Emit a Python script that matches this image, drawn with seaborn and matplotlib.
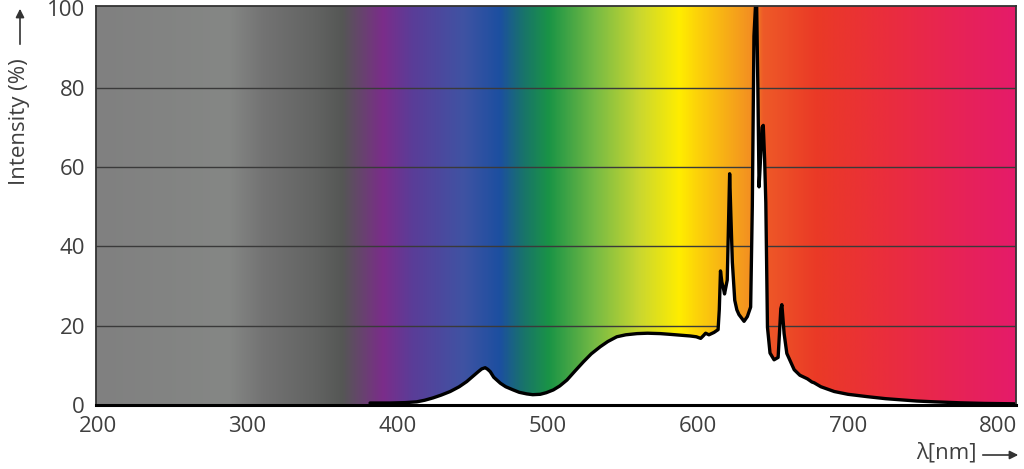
import numpy as np
import pandas as pd
import matplotlib
matplotlib.use("Agg")
import matplotlib.pyplot as plt
import seaborn as sns
from matplotlib.colors import LinearSegmentedColormap

# ---- data ----
wavelength = [381.6, 395, 405, 412.7, 418, 423.6, 429, 435, 441, 446, 450, 453.7, 456, 458.3, 460,
              461.7, 464, 468.4, 472, 477, 481, 486, 490, 495, 499, 503.7, 508, 512.8, 518, 523.8,
              529, 535, 540, 546, 552, 559.5, 566.5, 575, 582, 588.5, 595, 599, 601.9, 603.5, 605.2,
              607.4, 610.8, 613.5, 614.3, 615.1, 616, 617, 617.8, 619.6, 620.4, 621.2, 622, 623,
              624.6, 626, 627.4, 630.8, 633, 635.2, 636.3, 637.4, 638.4, 639.2, 640, 640.8, 641.5,
              642.8, 643.6, 644.5, 645.3, 646.4, 648.1, 650.8, 653.5, 655.3, 656, 657.5, 659.3,
              664.2, 668, 673, 676, 677.5, 682, 690.9, 700, 713, 725, 735.4, 746, 757.5, 775,
              790.8, 811]
intensity = [0.5, 0.5, 0.6, 0.8, 1.2, 1.8, 2.5, 3.4, 4.6, 5.9, 7.2, 8.4, 9.1, 9.4, 9.0,
             8.4, 7.0, 5.5, 4.6, 3.8, 3.2, 2.8, 2.6, 2.7, 3.1, 3.8, 4.8, 6.3, 8.5, 10.9,
             12.9, 14.7, 16.0, 17.2, 17.7, 18.0, 18.1, 18.0, 17.8, 17.6, 17.4, 17.2, 16.8, 17.4, 18.1,
             17.7, 18.3, 19.0, 24, 33.8, 31, 29.5, 28, 31.5, 45, 58.3, 48, 36,
             26.4, 24, 22.8, 21.1, 22.3, 24.7, 50, 93, 100.5, 100.5, 80, 55, 60,
             70, 70.5, 62, 51, 19.6, 13.1, 11.4, 12, 24.3, 25.3, 18, 13,
             8.9, 7.5, 6.6, 5.8, 5.6, 4.6, 3.4, 2.7, 2.1, 1.6, 1.3, 1.0, 0.8, 0.55,
             0.4, 0.3]

x_ticks = [200, 300, 400, 500, 600, 700, 800]
y_ticks = [0, 20, 40, 60, 80, 100]

# background spectrum colour stops (wavelength, colour)
bg_stop_nm = [199, 287, 310, 345, 363, 390, 410, 444, 468, 484, 501, 532, 561, 588, 600,
              635, 639.5, 644, 679, 728, 812]
bg_stop_col = ["#808080", "#858785", "#737373", "#626362", "#555755", "#7b2d8a", "#5a3d98",
               "#3f53a3", "#1c4fa0", "#18746a", "#1a9446", "#77bb44", "#c9d730", "#ffed00",
               "#fcd20a", "#f39021", "#f07a22", "#ee5a28", "#ea3a26", "#ea2d3e", "#e51b6a"]

XMIN, XMAX = 199, 812
YMIN, YMAX = 0, 100.6

df = pd.DataFrame({"wavelength": wavelength, "intensity": intensity})

sns.set_theme(style="white")
plt.rcParams["font.family"] = ["Open Sans", "DejaVu Sans"]

fig = plt.figure(figsize=(10.24, 4.69), dpi=100)
ax = fig.add_axes([96 / 1024, 1 - 405 / 469, (1016 - 96) / 1024, (405 - 6) / 469])

# gradient background
pos = [(v - XMIN) / (XMAX - XMIN) for v in bg_stop_nm]
cmap = LinearSegmentedColormap.from_list("spec", list(zip(pos, bg_stop_col)), N=1024)
grad = np.linspace(0, 1, 1200)[None, :]
ax.imshow(grad, cmap=cmap, aspect="auto", extent=[XMIN, XMAX, YMIN, YMAX],
          origin="lower", zorder=0, interpolation="bilinear")

# gridlines
for yv in y_ticks[1:-1]:
    ax.axhline(yv, color="#3a3a3a", lw=1.0, zorder=1)

# white fill and curve
ax.fill_between(df["wavelength"], 0, df["intensity"], color="white", zorder=2, lw=0)
sns.lineplot(data=df, x="wavelength", y="intensity", ax=ax, color="black", lw=2.4,
             zorder=3, sort=False, solid_joinstyle="round")

ax.set_xlim(XMIN, XMAX)
ax.set_ylim(YMIN, YMAX)
ax.set_xticks(x_ticks)
ax.set_yticks(y_ticks)
ax.set_xticklabels([str(v) for v in x_ticks])
ax.set_yticklabels([str(v) for v in y_ticks])
ax.tick_params(axis="both", length=0, labelsize=16, colors="#3f3f3f")
ax.tick_params(axis="x", pad=8)
ax.tick_params(axis="y", pad=8)
ax.set_xlabel("")
ax.set_ylabel("")
ax.grid(False)

for side in ["top", "right", "left"]:
    ax.spines[side].set_color("#333333")
    ax.spines[side].set_linewidth(1.3)
    ax.spines[side].set_zorder(5)
ax.spines["bottom"].set_color("black")
ax.spines["bottom"].set_linewidth(2.2)
ax.spines["bottom"].set_zorder(5)

# axis titles with arrows
fig.text(20 / 1024, 1 - 122 / 469, "Intensity (%)", rotation=90, ha="center", va="center",
         fontsize=16, color="#3f3f3f")
fig.add_artist(matplotlib.patches.FancyArrowPatch(
    (20 / 1024, 1 - 47 / 469), (20 / 1024, 1 - 6 / 469), transform=fig.transFigure,
    arrowstyle="-|>,head_length=5,head_width=2.5", color="#333333", lw=1.2))

fig.text(977 / 1024, 1 - 453 / 469, "λ[nm]", ha="right", va="center",
         fontsize=16, color="#3f3f3f")
fig.add_artist(matplotlib.patches.FancyArrowPatch(
    (980 / 1024, 1 - 455 / 469), (1021 / 1024, 1 - 455 / 469), transform=fig.transFigure,
    arrowstyle="-|>,head_length=5,head_width=2.5", color="#333333", lw=1.2))

fig.savefig("out.png", dpi=100)
